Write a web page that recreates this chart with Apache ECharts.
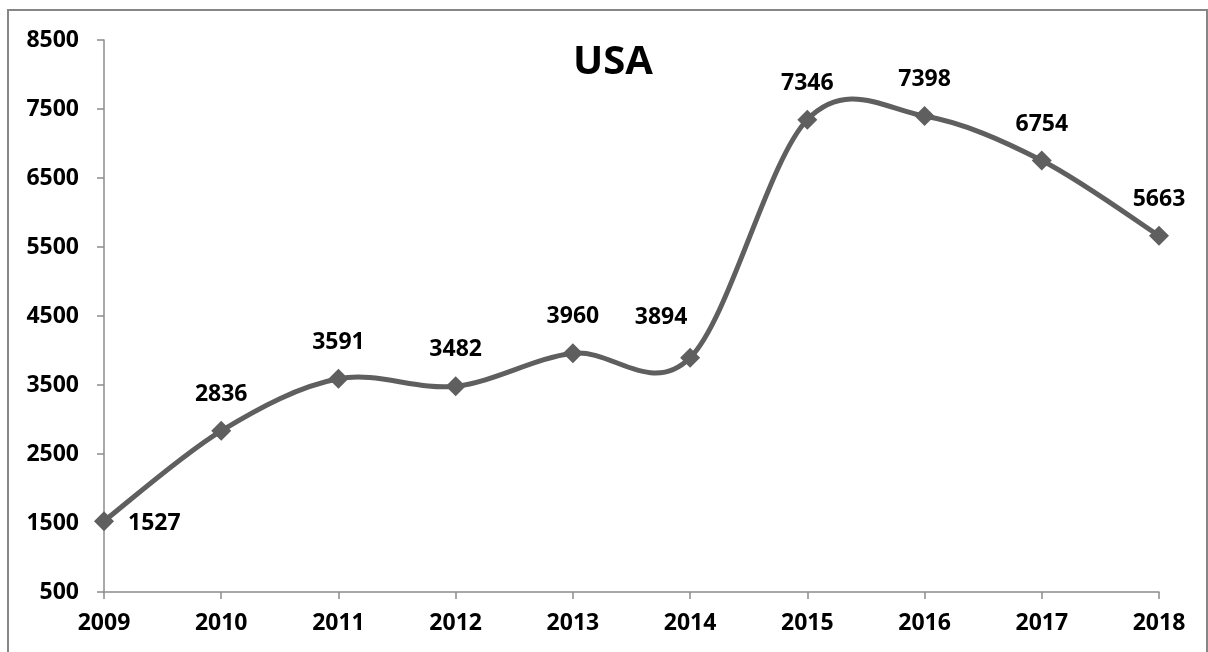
<!DOCTYPE html>
<html>
<head>
<meta charset="utf-8">
<script src="https://cdn.jsdelivr.net/npm/echarts@6/dist/echarts.min.js"></script>
<style>
html,body{margin:0;padding:0;background:#fff;}
#chart{width:1208px;height:652px;}
</style>
</head>
<body>
<div id="chart"></div>
<script>
var years = ['2009','2010','2011','2012','2013','2014','2015','2016','2017','2018'];
var values = [1527, 2836, 3591, 3482, 3960, 3894, 7346, 7398, 6754, 5663];
var titleText = 'USA';

var FONT = '"Open Sans", "Noto Sans", sans-serif';
var LINE_COLOR = '#5f5f5f';
var chart = echarts.init(document.getElementById('chart'));

var seriesData = values.map(function (v, i) {
  var item = { value: v };
  if (i === 0) {
    item.label = { position: 'right', distance: 14, offset: [0, 2] };
  } else if (i === years.length - 5) {
    item.label = { offset: [-29, -4] };
  }
  return item;
});

// Smooth curve (Excel-style Catmull-Rom Bezier) through the data points, using the chart's own coordinate system
function renderCurve(params, api) {
  if (params.dataIndex !== 0) return null;
  var pts = values.map(function (v, i) { return api.coord([i, v]); });
  var n = pts.length;
  var d = 'M' + pts[0][0] + ' ' + pts[0][1];
  for (var i = 0; i < n - 1; i++) {
    var p0 = pts[Math.max(i - 1, 0)];
    var p1 = pts[i];
    var p2 = pts[i + 1];
    var p3 = pts[Math.min(i + 2, n - 1)];
    var c1x = p1[0] + (p2[0] - p0[0]) / 6;
    var c1y = p1[1] + (p2[1] - p0[1]) / 6;
    var c2x = p2[0] - (p3[0] - p1[0]) / 6;
    var c2y = p2[1] - (p3[1] - p1[1]) / 6;
    d += ' C' + c1x + ' ' + c1y + ' ' + c2x + ' ' + c2y + ' ' + p2[0] + ' ' + p2[1];
  }
  return {
    type: 'path',
    shape: { pathData: d },
    style: { fill: 'none', stroke: LINE_COLOR, lineWidth: 5, lineJoin: 'round', lineCap: 'round' }
  };
}

chart.setOption({
  animation: false,
  backgroundColor: '#fff',
  title: {
    text: titleText,
    left: 568,
    top: 38,
    textStyle: { fontFamily: FONT, fontWeight: 'bold', fontSize: 40, color: '#000' }
  },
  graphic: [{
    type: 'rect',
    shape: { x: 8, y: 10, width: 1199, height: 660 },
    style: { fill: null, stroke: '#868686', lineWidth: 2 },
    silent: true,
    z: -1
  }],
  grid: { left: 104, right: 49, top: 40, bottom: 60, containLabel: false },
  xAxis: {
    type: 'category',
    data: years,
    boundaryGap: false,
    axisLine: { lineStyle: { color: '#8c8c8c', width: 1.5 } },
    axisTick: { show: true, alignWithLabel: true, length: 7, lineStyle: { color: '#8c8c8c', width: 1.5 } },
    axisLabel: { margin: 20, fontFamily: FONT, fontWeight: 'bold', fontSize: 23, color: '#000' },
    splitLine: { show: false }
  },
  yAxis: {
    type: 'value',
    min: 500,
    max: 8500,
    interval: 1000,
    axisLine: { show: true, lineStyle: { color: '#8c8c8c', width: 1.5 } },
    axisTick: { show: true, length: 7, lineStyle: { color: '#8c8c8c', width: 1.5 } },
    axisLabel: {
      margin: 25, fontFamily: FONT, fontWeight: 'bold', fontSize: 23, color: '#000',
      formatter: function (v) { return String(v); }
    },
    splitLine: { show: false }
  },
  series: [{
    type: 'custom',
    data: values.map(function (v, i) { return [i, v]; }),
    renderItem: renderCurve,
    silent: true,
    z: 1
  }, {
    type: 'line',
    data: seriesData,
    symbol: 'diamond',
    symbolSize: 20,
    showAllSymbol: true,
    lineStyle: { opacity: 0, width: 0 },
    itemStyle: { color: LINE_COLOR },
    z: 2,
    label: {
      show: true,
      position: 'top',
      distance: 15,
      fontFamily: FONT,
      fontWeight: 'bold',
      fontSize: 23,
      color: '#000'
    }
  }]
});
</script>
</body>
</html>
